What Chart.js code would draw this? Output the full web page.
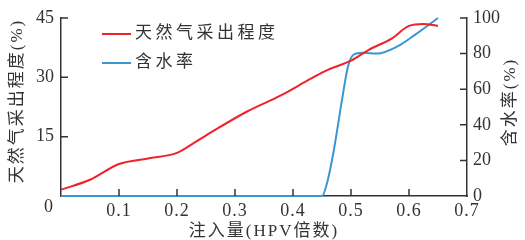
<!DOCTYPE html>
<html>
<head>
<meta charset="utf-8">
<script src="https://cdn.jsdelivr.net/npm/chart.js@4"></script>
<style>
  html, body { margin: 0; padding: 0; background: #fff; }
  #wrap { width: 525px; height: 240px; }
</style>
</head>
<body>
<div id="wrap"><canvas id="chart" width="525" height="240"></canvas></div>
<script>
// gas recovery degree (%), left axis
const gasX = [0, 0.05, 0.1, 0.15, 0.2, 0.23, 0.26, 0.32, 0.38, 0.43, 0.46, 0.5, 0.53, 0.57, 0.6, 0.625, 0.65];
const gasY = [1.6, 4.1, 8.1, 9.5, 10.9, 13.5, 16.2, 21.3, 25.5, 29.6, 31.9, 34.2, 36.9, 39.8, 43.0, 43.5, 43.0];

// water cut (%), right axis
const waterX = [0, 0.45, 0.46, 0.47, 0.485, 0.495, 0.505, 0.52, 0.545, 0.58, 0.61, 0.65];
const waterY = [0, 0, 9, 25, 55, 73, 79.5, 80.5, 80, 84, 90.5, 100];

const xTicks = [0.1, 0.2, 0.3, 0.4, 0.5, 0.6, 0.7];
const leftTicks = [15, 30, 45];
const rightTicks = [0, 20, 40, 60, 80, 100];

const labels = ['天然气采出程度', '含水率'];
const xTitle = '注入量(HPV倍数)';
const leftTitle = '天然气采出程度(%)';
const rightTitle = '含水率(%)';

const RED = '#f0212b';
const BLUE = '#3a96d0';
const INK = '#333';
const FONT = '"Liberation Serif", "Noto Sans CJK SC", serif';

const toPoints = (xs, ys) => xs.map((x, i) => ({ x: x, y: ys[i] }));

// ticks pointing inward, tick labels, titles and the legend
const decor = {
  id: 'decor',
  afterDraw(chart) {
    const { ctx, chartArea } = chart;
    const x = chart.scales.x, y = chart.scales.y, y2 = chart.scales.y2;
    ctx.save();
    ctx.strokeStyle = INK;
    ctx.lineWidth = 1.5;
    ctx.beginPath();
    xTicks.slice(0, -1).forEach(v => {
      const px = x.getPixelForValue(v);
      ctx.moveTo(px, chartArea.bottom); ctx.lineTo(px, chartArea.bottom - 7);
    });
    leftTicks.forEach(v => {
      const py = y.getPixelForValue(v);
      ctx.moveTo(chartArea.left, py); ctx.lineTo(chartArea.left + 7, py);
    });
    rightTicks.slice(1).forEach(v => {
      const py = y2.getPixelForValue(v);
      ctx.moveTo(chartArea.right, py); ctx.lineTo(chartArea.right - 7, py);
    });
    ctx.stroke();

    ctx.fillStyle = INK;
    ctx.font = '18px ' + FONT;
    ctx.textBaseline = 'middle';
    ctx.textAlign = 'center';
    ctx.letterSpacing = '1px';
    xTicks.forEach(v => ctx.fillText(String(v), x.getPixelForValue(v), chartArea.bottom + 15));
    ctx.fillText('0', chartArea.left - 12, chartArea.bottom + 11);
    ctx.letterSpacing = '0px';
    ctx.textAlign = 'right';
    leftTicks.forEach(v => ctx.fillText(String(v), chartArea.left - 7, y.getPixelForValue(v)));
    ctx.textAlign = 'left';
    rightTicks.forEach(v => ctx.fillText(String(v), chartArea.right + 6, y2.getPixelForValue(v)));

    // axis titles
    ctx.font = '17px ' + FONT;
    ctx.letterSpacing = '2px';
    ctx.textAlign = 'center';
    ctx.fillText(xTitle, (chartArea.left + chartArea.right) / 2, 232);
    ctx.save();
    ctx.translate(18, 101);
    ctx.rotate(-Math.PI / 2);
    ctx.fillText(leftTitle, 0, 0);
    ctx.restore();
    ctx.save();
    ctx.translate(511, 102);
    ctx.rotate(-Math.PI / 2);
    ctx.fillText(rightTitle, 0, 0);
    ctx.restore();

    // legend
    const colors = [RED, BLUE];
    ctx.textAlign = 'left';
    ctx.font = '17px ' + FONT;
    ctx.letterSpacing = '3.5px';
    labels.forEach((t, i) => {
      const ly = 34 + i * 29;
      ctx.strokeStyle = colors[i];
      ctx.lineWidth = 2;
      ctx.beginPath();
      ctx.moveTo(102, ly); ctx.lineTo(131, ly);
      ctx.stroke();
      ctx.fillStyle = INK;
      ctx.fillText(t, 135, ly);
    });
    ctx.restore();
  }
};

const noWidth = s => { s.width = 0; };
const noHeight = s => { s.height = 0; };

new Chart(document.getElementById('chart'), {
  type: 'line',
  data: {
    datasets: [
      {
        label: labels[0],
        data: toPoints(gasX, gasY),
        borderColor: RED,
        borderWidth: 2,
        pointRadius: 0,
        cubicInterpolationMode: 'monotone',
        yAxisID: 'y',
        clip: 6
      },
      {
        label: labels[1],
        data: toPoints(waterX, waterY),
        borderColor: BLUE,
        borderWidth: 2,
        pointRadius: 0,
        cubicInterpolationMode: 'monotone',
        yAxisID: 'y2',
        clip: 6
      }
    ]
  },
  options: {
    responsive: false,
    animation: false,
    layout: { padding: { left: 61, right: 58, top: 18, bottom: 44 } },
    plugins: { legend: { display: false }, tooltip: { enabled: false } },
    scales: {
      x: {
        type: 'linear', min: 0, max: 0.7,
        grid: { display: false },
        ticks: { display: false },
        border: { color: INK, width: 1.5 },
        afterFit: noHeight
      },
      y: {
        position: 'left', min: 0, max: 45,
        grid: { display: false },
        ticks: { display: false },
        border: { color: INK, width: 1.5 },
        afterFit: noWidth
      },
      y2: {
        position: 'right', min: 0, max: 100,
        grid: { display: false },
        ticks: { display: false },
        border: { color: INK, width: 1.5 },
        afterFit: noWidth
      }
    }
  },
  plugins: [decor]
});
</script>
</body>
</html>
